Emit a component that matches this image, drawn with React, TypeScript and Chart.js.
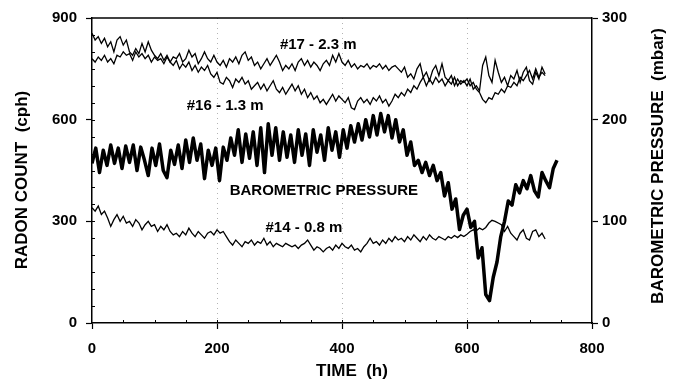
import React, { useEffect, useRef } from "react";
import { Chart, registerables } from "chart.js";

Chart.register(...registerables);

// ---- data -------------------------------------------------------------
const RADON_STEP_H = 5; // radon series sampled every 5 h, starting at 0 h
const BARO_STEP_H = 6; // barometric series sampled every 6 h, starting at 0 h

// #17 - 2.3 m (cph)
const RADON_17 = [
  855, 835, 845, 825, 840, 815, 830, 800, 835, 845,
  820, 835, 800, 790, 810, 795, 825, 800, 830, 805,
  790, 780, 795, 775, 790, 770, 785, 780, 795, 770,
  780, 805, 785, 795, 765, 780, 800, 780, 770, 790,
  770, 760, 775, 755, 780, 770, 785, 765, 790, 800,
  775, 785, 760, 770, 750, 765, 780, 760, 775, 790,
  770, 745, 760, 750, 765, 745, 770, 780, 760, 775,
  755, 770, 760, 745, 765, 775, 760, 790, 770, 795,
  770, 760, 775, 755, 765, 750, 760, 755, 765, 750,
  760, 755, 765, 750, 760, 745, 755, 760, 750, 740,
  755, 725, 735, 720, 750, 765, 725, 740, 715, 745,
  760, 730, 765, 725, 715, 730, 700, 720, 705, 715,
  700, 720, 690, 700, 685, 760, 785, 730, 710, 775,
  740, 710, 725, 700, 730, 720, 745, 710, 740, 755,
  715, 705, 740, 720, 755, 735,
];

// #16 - 1.3 m (cph)
const RADON_16 = [
  780, 770, 785, 775, 790, 770, 780, 765, 790, 785,
  800, 790, 795, 775, 800, 785, 795, 780, 790, 770,
  785, 775, 780, 765, 785, 770, 760, 775, 750, 765,
  755, 770, 745, 760, 740, 755, 745, 760, 735, 725,
  740, 710, 705, 725, 715, 695, 720, 710, 725, 705,
  715, 690, 700, 710, 690, 705, 685, 700, 715, 690,
  680, 695, 675, 690, 705, 685, 700, 675, 690, 665,
  680, 660, 670, 650, 660, 645, 660, 675, 655, 670,
  660, 650, 665, 635, 630, 655, 665, 650, 660, 645,
  665, 655, 670, 650, 660, 640, 655, 675, 665, 680,
  670, 690, 680, 700, 690, 710, 725, 700, 720, 705,
  725, 710, 720, 700, 715, 705, 725, 700, 715, 710,
  720, 700, 710, 690, 680, 660, 650, 665, 660, 680,
  675, 690, 680, 700, 695, 710, 700, 725, 715, 730,
  745, 720, 750, 725, 740, 730,
];

// #14 - 0.8 m (cph)
const RADON_14 = [
  340, 330, 345, 320, 330, 310, 285, 305, 320, 300,
  315, 295, 300, 285, 305, 295, 275, 290, 300, 285,
  290, 270, 285, 275, 290, 270, 260, 265, 255, 270,
  260, 280, 265, 255, 270, 260, 250, 265, 270, 260,
  275, 265, 270, 255, 240, 230, 245, 235, 225, 240,
  235, 245, 230, 240, 235, 250, 230, 240, 225, 235,
  230, 225, 235, 230, 225, 230, 220, 230, 235, 245,
  230, 215, 225, 220, 210, 220, 225, 215, 230, 220,
  235, 225, 220, 230, 215, 220, 210, 225, 235, 250,
  235, 240, 230, 245, 235, 250, 240, 255, 245, 250,
  240, 255, 245, 260, 250, 240, 255, 245, 260, 250,
  245, 255, 250, 245, 255, 250, 258, 252, 260, 255,
  262, 270, 275, 272, 280, 275, 282, 295, 303, 300,
  295, 290, 270, 285, 265, 255, 245, 265, 275, 250,
  245, 270, 275, 255, 265, 248,
];

// Barometric pressure (mbar, right axis)
const BARO = [
  157, 172, 148, 170, 155, 175, 157, 172, 152, 174,
  158, 175, 150, 173, 160, 145, 172, 155, 176, 150,
  143, 170, 156, 175, 152, 180, 158, 182, 160, 176,
  142, 170, 155, 172, 140, 173, 160, 182, 165, 190,
  158, 186, 162, 188, 155, 192, 148, 196, 165, 192,
  160, 188, 163, 185, 158, 190, 165, 186, 155, 190,
  168, 185, 160, 192, 170, 188, 163, 190, 172, 194,
  178, 196, 180, 200, 183, 204, 185, 206, 188, 204,
  182, 200, 178, 190, 165, 178, 155, 160, 148, 158,
  145, 155, 140, 148, 125, 138, 112, 122, 92, 106,
  112, 94, 100, 64, 74, 28, 22, 45, 60, 85,
  100, 120, 116, 136, 128, 140, 132, 145, 130, 124,
  148, 140, 133, 152, 160,
];

const X_MIN = 0;
const X_MAX = 800;
const X_STEP = 200;
const X_GRID = [200, 400, 600];
const Y_MIN = 0;
const Y_MAX = 900;
const Y_STEP = 300;
const Y2_MIN = 0;
const Y2_MAX = 300;
const Y2_STEP = 100;
const MINOR_Y_STEP = 50;
const MINOR_X_STEP = 50;

const X_TITLE = "TIME  (h)";
const Y_TITLE = "RADON COUNT  (cph)";
const Y2_TITLE = "BAROMETRIC PRESSURE  (mbar)";

// in-plot labels, anchored in data units (time h, left-axis cph)
const NOTE_TEXT = ["#17 - 2.3 m", "#16 - 1.3 m", "BAROMETRIC PRESSURE", "#14 - 0.8 m"];
const NOTE_T = [362, 213, 371, 339];
const NOTE_V = [820, 641, 391, 282];

// ---- chart ------------------------------------------------------------
const FONT = '"Liberation Sans", Arial, Helvetica, sans-serif';

const toPoints = (vals: number[], step: number) =>
  vals.map((v, i) => ({ x: i * step, y: v }));

const decorPlugin = {
  id: "decor",
  beforeDatasetsDraw(chart: any) {
    const { ctx, chartArea: a, scales } = chart;
    ctx.save();
    ctx.strokeStyle = "#b4b4b4";
    ctx.lineWidth = 1;
    ctx.setLineDash([1, 4]);
    ctx.beginPath();
    for (const t of X_GRID) {
      const x = Math.round(scales.x.getPixelForValue(t)) + 0.5;
      ctx.moveTo(x, a.top);
      ctx.lineTo(x, a.bottom);
    }
    ctx.stroke();
    ctx.restore();
  },
  afterDraw(chart: any) {
    const { ctx, chartArea: a, scales } = chart;
    ctx.save();
    ctx.strokeStyle = "#000";
    ctx.lineWidth = 1.5;
    ctx.beginPath();
    ctx.moveTo(a.left, a.top);
    ctx.lineTo(a.right, a.top);
    ctx.stroke();

    ctx.lineWidth = 1;
    ctx.beginPath();
    for (let v = Y_MIN + MINOR_Y_STEP; v < Y_MAX; v += MINOR_Y_STEP) {
      const y = Math.round(scales.y.getPixelForValue(v)) + 0.5;
      ctx.moveTo(a.left, y);
      ctx.lineTo(a.left + 3, y);
    }
    for (let t = X_MIN + MINOR_X_STEP; t < X_MAX; t += MINOR_X_STEP) {
      const x = Math.round(scales.x.getPixelForValue(t)) + 0.5;
      ctx.moveTo(x, a.bottom);
      ctx.lineTo(x, a.bottom - 3);
    }
    ctx.stroke();

    ctx.fillStyle = "#000";
    ctx.textAlign = "center";
    ctx.textBaseline = "middle";
    ctx.font = `bold 15px ${FONT}`;
    NOTE_TEXT.forEach((txt, i) => {
      ctx.fillText(txt, scales.x.getPixelForValue(NOTE_T[i]), scales.y.getPixelForValue(NOTE_V[i]));
    });

    ctx.font = `bold 17px ${FONT}`;
    ctx.fillText(X_TITLE, 352, 371);
    ctx.save();
    ctx.translate(22, 180);
    ctx.rotate(-Math.PI / 2);
    ctx.fillText(Y_TITLE, 0, 0);
    ctx.restore();
    ctx.save();
    ctx.translate(658, 166);
    ctx.rotate(-Math.PI / 2);
    ctx.fillText(Y2_TITLE, 0, 0);
    ctx.restore();
    ctx.restore();
  },
};

export default function App() {
  const ref = useRef<HTMLCanvasElement>(null);
  useEffect(() => {
    const tickFont = { family: FONT, size: 15, weight: "bold" as const };
    const thin = { borderColor: "#000", borderWidth: 1.3, pointRadius: 0, tension: 0, fill: false };
    const chart = new Chart(ref.current as HTMLCanvasElement, {
      type: "line",
      data: {
        datasets: [
          { ...thin, label: "#17", data: toPoints(RADON_17, RADON_STEP_H), yAxisID: "y" },
          { ...thin, label: "#16", data: toPoints(RADON_16, RADON_STEP_H), yAxisID: "y" },
          { ...thin, label: "#14", data: toPoints(RADON_14, RADON_STEP_H), yAxisID: "y" },
          {
            label: "Barometric pressure",
            data: toPoints(BARO, BARO_STEP_H),
            yAxisID: "y2",
            borderColor: "#000",
            borderWidth: 3.5,
            borderJoinStyle: "round",
            pointRadius: 0,
            tension: 0,
            fill: false,
          },
        ],
      },
      options: {
        animation: false,
        responsive: false,
        devicePixelRatio: 1,
        events: [],
        layout: { padding: { top: 17, left: 0, right: 0, bottom: 0 } },
        plugins: { legend: { display: false }, tooltip: { enabled: false } },
        scales: {
          x: {
            type: "linear",
            min: X_MIN,
            max: X_MAX,
            ticks: { stepSize: X_STEP, color: "#000", font: tickFont, padding: 11, maxRotation: 0 },
            grid: { drawOnChartArea: false, drawTicks: true, tickLength: 6, tickColor: "#000", tickWidth: 1.2 },
            border: { display: true, color: "#000", width: 1.5 },
            afterFit: (s: any) => { s.height = 63; },
          },
          y: {
            type: "linear",
            position: "left",
            min: Y_MIN,
            max: Y_MAX,
            ticks: { stepSize: Y_STEP, color: "#000", font: tickFont, padding: 9 },
            grid: { drawOnChartArea: false, drawTicks: true, tickLength: 6, tickColor: "#000", tickWidth: 1.2 },
            border: { display: true, color: "#000", width: 1.5 },
            afterFit: (s: any) => { s.width = 92; },
          },
          y2: {
            type: "linear",
            position: "right",
            min: Y2_MIN,
            max: Y2_MAX,
            ticks: { stepSize: Y2_STEP, color: "#000", font: tickFont, padding: 4 },
            grid: { drawOnChartArea: false, drawTicks: true, tickLength: 6, tickColor: "#000", tickWidth: 1.2 },
            border: { display: true, color: "#000", width: 1.5 },
            afterFit: (s: any) => { s.width = 82; },
          },
        },
      },
      plugins: [decorPlugin],
    });
    return () => chart.destroy();
  }, []);

  return (
    <div style={{ position: "fixed", left: 0, top: 0, width: 674, height: 386, background: "#fff" }}>
      <canvas ref={ref} width={674} height={386} style={{ display: "block", width: 674, height: 386 }} />
    </div>
  );
}
